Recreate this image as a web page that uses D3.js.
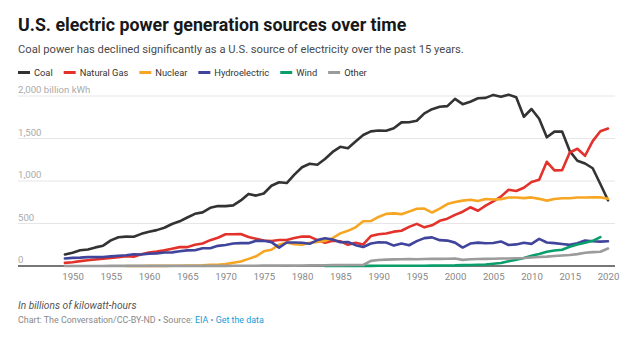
<!DOCTYPE html>
<html>
<head>
<meta charset="utf-8">
<script src="https://cdn.jsdelivr.net/npm/d3@7"></script>
<style>
  html, body { margin: 0; padding: 0; background: #fff; }
  svg { display: block; font-family: Roboto, "Noto Sans", sans-serif; }
</style>
</head>
<body>
<svg id="chart" width="628" height="341"></svg>
<script>
// U.S. net electricity generation by source, billion kWh
const years = d3.range(1949, 2021);

const coal = [135, 155, 185, 195, 219, 239, 301, 339, 346, 344, 378, 403, 422, 450, 494, 526, 571, 614, 631, 685,
  706, 704, 713, 771, 848, 828, 853, 944, 985, 976, 1075, 1162, 1203, 1192, 1259, 1342, 1402, 1386, 1464, 1541,
  1584, 1594, 1591, 1621, 1690, 1691, 1709, 1795, 1845, 1874, 1881, 1966, 1904, 1933, 1974, 1978, 2013, 1991,
  2016, 1986, 1756, 1847, 1733, 1514, 1581, 1582, 1352, 1239, 1206, 1150, 965, 773];

const naturalGas = [37, 45, 57, 68, 77, 85, 95, 104, 114, 110, 137, 158, 169, 184, 202, 222, 222, 251, 265, 304,
  333, 373, 374, 376, 341, 320, 300, 295, 306, 305, 329, 346, 346, 305, 274, 297, 292, 249, 273, 253,
  352, 373, 382, 404, 415, 460, 496, 455, 479, 532, 557, 601, 639, 691, 650, 710, 761, 816,
  897, 883, 921, 988, 1014, 1226, 1125, 1126, 1335, 1379, 1297, 1469, 1586, 1617];

const nuclearStart = 1957;
const nuclear = [0, 0, 0, 1, 2, 2, 3, 3, 4, 6, 8, 13, 14, 22, 38, 54, 84, 114, 173, 191, 251, 276, 255, 251,
  273, 283, 294, 328, 384, 414, 455, 527, 529, 577, 613, 619, 610, 640, 673, 675, 629, 674, 728, 754,
  769, 780, 764, 789, 782, 787, 806, 806, 799, 807, 790, 769, 789, 797, 797, 806, 805, 807, 809, 790];

const hydroelectric = [89, 96, 99, 104, 104, 105, 113, 120, 127, 138, 136, 146, 149, 159, 160, 174, 184, 185, 209, 209,
  237, 248, 265, 269, 269, 296, 296, 281, 216, 276, 276, 273, 261, 305, 327, 312, 280, 283, 245, 223,
  265, 280, 276, 240, 264, 244, 293, 328, 337, 304, 299, 275, 217, 264, 275, 268, 270, 289,
  247, 254, 273, 260, 319, 276, 269, 259, 249, 268, 300, 292, 287, 291];

const windStart = 1983;
const wind = [0, 0, 1, 2, 2, 2, 2, 3, 3, 3, 3, 3, 3, 3, 4, 5, 6, 7, 10, 11, 14, 18, 27, 35, 55, 74, 95,
  120, 141, 168, 182, 191, 227, 254, 273, 296, 340];

const other = [0, 0, 0, 0, 0, 0, 1, 1, 1, 1, 1, 1, 1, 1, 1, 1, 1, 2, 2, 2, 2, 2, 3, 3, 3, 3, 4, 4, 4, 5,
  5, 6, 7, 8, 9, 10, 10, 11, 11, 12,
  60, 70, 75, 78, 80, 82, 80, 83, 84, 84, 85, 88, 72, 80, 82, 84, 86, 88,
  88, 92, 95, 100, 106, 110, 118, 124, 130, 140, 155, 163, 168, 205];

const seriesNames = ["Coal", "Natural Gas", "Nuclear", "Hydroelectric", "Wind", "Other"];
const seriesColors = ["#333333", "#e2322b", "#f6a623", "#41449b", "#0a9e6b", "#9b9b9b"];
const yTicks = [0, 500, 1000, 1500, 2000];
const xTicks = d3.range(1950, 2021, 5);

const toPoints = (start, vals) => vals.map((v, i) => ({ year: start + i, value: v }));
const series = [
  toPoints(years[0], coal),
  toPoints(years[0], naturalGas),
  toPoints(nuclearStart, nuclear),
  toPoints(years[0], hydroelectric),
  toPoints(windStart, wind),
  toPoints(years[0], other)
];

const svg = d3.select("#chart");

// headline block
svg.append("text").attr("x", 18).attr("y", 31)
  .attr("font-size", 17.8).attr("font-weight", 700).attr("fill", "#181818")
  .text("U.S. electric power generation sources over time");
svg.append("text").attr("x", 18).attr("y", 53)
  .attr("font-size", 11.2).attr("fill", "#4a4a4a")
  .text("Coal power has declined significantly as a U.S. source of electricity over the past 15 years.");

// legend
const legend = svg.append("g").attr("transform", "translate(18,72.5)");
let lx = 0;
seriesNames.forEach((name, i) => {
  const g = legend.append("g").attr("transform", `translate(${lx},0)`);
  g.append("line").attr("x1", 0).attr("x2", 12).attr("y1", 0).attr("y2", 0)
    .attr("stroke", seriesColors[i]).attr("stroke-width", 3);
  const t = g.append("text").attr("x", 16).attr("y", 3.5)
    .attr("font-size", 9.3).attr("fill", "#333").text(name);
  lx += 16 + t.node().getComputedTextLength() + 11;
});

// scales
const x = d3.scaleLinear().domain([1949, 2020]).range([64.9, 608]);
const y = d3.scaleLinear().domain([0, 2000]).range([266, 96]);
const plotLeft = 18, plotRight = 615;

// gridlines and y labels
const grid = svg.append("g");
grid.selectAll("line").data(yTicks.filter(d => d > 0)).join("line")
  .attr("x1", plotLeft).attr("x2", plotRight)
  .attr("y1", d => y(d)).attr("y2", d => y(d))
  .attr("stroke", "#e6e6e6").attr("stroke-width", 1);
grid.selectAll("text").data(yTicks).join("text")
  .attr("x", plotLeft).attr("y", d => y(d) - 3)
  .attr("font-size", 9.6).attr("fill", "#aaaaaa")
  .text(d => d3.format(",")(d) + (d === 2000 ? " billion kWh" : ""));

// baseline
svg.append("line").attr("x1", plotLeft).attr("x2", plotRight)
  .attr("y1", y(0)).attr("y2", y(0))
  .attr("stroke", "#777").attr("stroke-width", 2);

// x axis
const xAxis = svg.append("g").attr("transform", `translate(0,${y(0)})`)
  .call(d3.axisBottom(x).tickValues(xTicks).tickFormat(d3.format("d")).tickSize(0).tickPadding(7.5));
xAxis.select(".domain").remove();
xAxis.selectAll("text").attr("font-size", 9.6).attr("fill", "#888")
  .attr("font-family", "Roboto, sans-serif");

// lines
const line = d3.line().x(d => x(d.year)).y(d => y(d.value));
svg.append("g").selectAll("path").data(series).join("path")
  .attr("d", line)
  .attr("fill", "none")
  .attr("stroke", (d, i) => seriesColors[i])
  .attr("stroke-width", 2.6)
  .attr("stroke-linejoin", "round")
  .attr("stroke-linecap", "round");

// notes
svg.append("text").attr("x", 18).attr("y", 309)
  .attr("font-size", 10.2).attr("font-style", "italic").attr("fill", "#555")
  .text("In billions of kilowatt-hours");
const credit = svg.append("text").attr("x", 18).attr("y", 322.5)
  .attr("font-size", 8.9).attr("fill", "#888");
credit.append("tspan").text("Chart: The Conversation/CC-BY-ND • Source: ");
credit.append("tspan").attr("fill", "#1b9bd8").text("EIA");
credit.append("tspan").text(" • ");
credit.append("tspan").attr("fill", "#1b9bd8").text("Get the data");
</script>
</body>
</html>
